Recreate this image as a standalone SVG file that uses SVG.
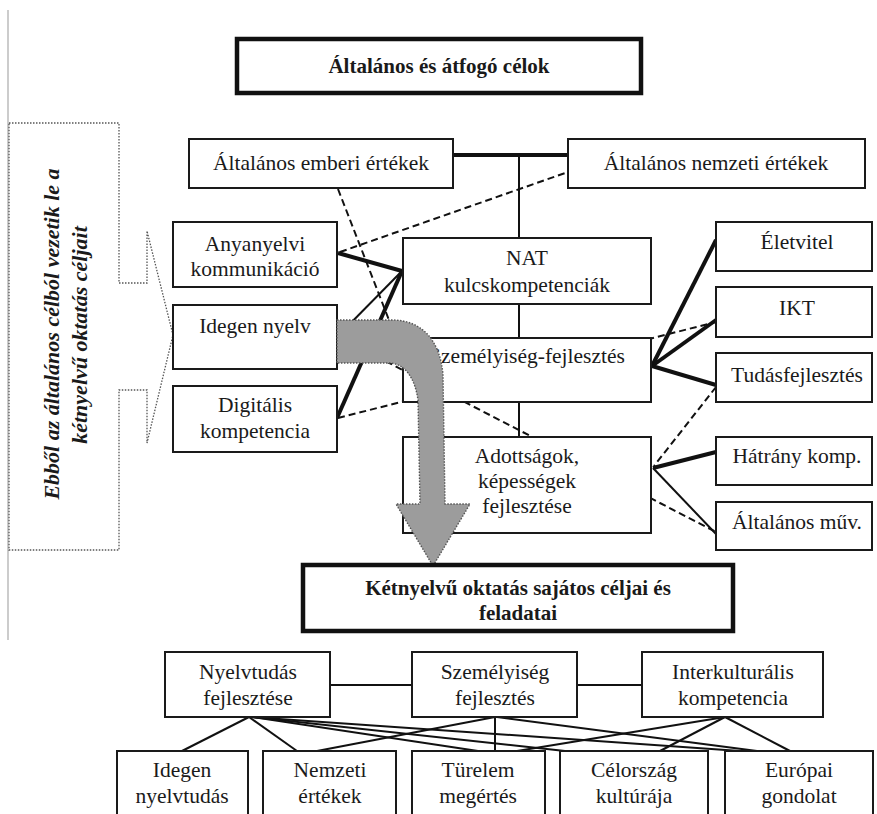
<svg xmlns="http://www.w3.org/2000/svg" width="877" height="814" viewBox="0 0 877 814" font-family="'Liberation Serif', 'Times New Roman', 'DejaVu Serif', serif">
<style>
.b{fill:#fff;stroke:#1a1a1a;stroke-width:2}
.bt{fill:#fff;stroke:#111;stroke-width:4.5}
text{font-size:21.5px;fill:#1a1a1a;text-anchor:middle}
.bold{font-weight:bold;font-size:21px}
.rot{font-weight:bold;font-style:italic;font-size:22px}
.thick{stroke:#111;stroke-width:4;fill:none}
.thin{stroke:#111;stroke-width:2;fill:none}
.dash{stroke:#111;stroke-width:2;stroke-dasharray:7 4;fill:none}
</style>
<rect width="877" height="814" fill="#fff"/>
<line x1="8" y1="10" x2="8" y2="640" stroke="#aaa" stroke-width="1.2"/>
<g id="callout">
<path d="M9,123 H119 V283 H147 V231 L173,335 L147,443 V390 H119 V550 H9 Z" fill="none" stroke="#555" stroke-width="1.3" stroke-dasharray="1.5 1.5"/>
<text class="rot" transform="translate(59,334) rotate(-90)">Ebből az általános célból vezetik le a</text>
<text class="rot" transform="translate(87,335) rotate(-90)">kétnyelvű oktatás céljait</text>
</g>
<g id="connectors">
<line class="thick" x1="453" y1="155" x2="568" y2="155"/>
<line class="thin" x1="519" y1="155" x2="519" y2="238"/>
<line class="thin" x1="519" y1="304" x2="519" y2="338"/>
<line class="thin" x1="519" y1="402" x2="519" y2="437"/>
<line class="thick" x1="338" y1="253" x2="402" y2="271"/>
<line class="thin" x1="402" y1="271" x2="337" y2="337"/>
<line class="thick" x1="402" y1="271" x2="337" y2="418"/>
<line class="dash" x1="338" y1="189" x2="403" y2="356"/>
<line class="dash" x1="340" y1="252" x2="568" y2="172"/>
<line class="dash" x1="338" y1="418" x2="716" y2="322"/>
<line class="dash" x1="337" y1="336" x2="716" y2="532"/>
<line class="dash" x1="716" y1="387" x2="654" y2="466"/>
<line class="thick" x1="652" y1="366" x2="716" y2="240"/>
<line class="thick" x1="652" y1="366" x2="716" y2="320"/>
<line class="thick" x1="652" y1="366" x2="716" y2="385"/>
<line class="thick" x1="653" y1="468" x2="716" y2="452"/>
<line class="thin" x1="653" y1="468" x2="716" y2="534" stroke-width="3"/>
<line class="thin" x1="330" y1="685" x2="412" y2="685"/>
<line class="thin" x1="577" y1="685" x2="642" y2="685"/>
<line class="thin" x1="249" y1="717" x2="182" y2="751"/>
<line class="thin" x1="249" y1="717" x2="297" y2="751"/>
<line class="thin" x1="252" y1="717" x2="478" y2="751"/>
<line class="thin" x1="252" y1="717" x2="565" y2="751"/>
<line class="thin" x1="252" y1="717" x2="740" y2="751"/>
<line class="thin" x1="495" y1="717" x2="317" y2="751"/>
<line class="thin" x1="495" y1="717" x2="495" y2="751"/>
<line class="thin" x1="497" y1="717" x2="757" y2="751"/>
<line class="thin" x1="725" y1="717" x2="517" y2="751"/>
<line class="thin" x1="725" y1="717" x2="660" y2="751"/>
<line class="thin" x1="725" y1="717" x2="790" y2="751"/>
</g>
<g id="n-top"><rect class="bt" x="237" y="39" width="404" height="54"/><text class="bold" x="439" y="73">Általános és átfogó célok</text></g>
<g id="n-emberi"><rect class="b" x="189" y="139" width="264" height="49"/><text x="321" y="170">Általános emberi értékek</text></g>
<g id="n-nemzeti"><rect class="b" x="568" y="139" width="297" height="49"/><text x="716" y="170">Általános nemzeti értékek</text></g>
<g id="n-anya"><rect class="b" x="173" y="222" width="164" height="65"/><text x="255" y="251">Anyanyelvi</text><text x="255" y="276">kommunikáció</text></g>
<g id="n-idegen"><rect class="b" x="173" y="305" width="164" height="64"/><text x="255" y="333">Idegen nyelv</text></g>
<g id="n-digit"><rect class="b" x="173" y="386" width="164" height="66"/><text x="255" y="412">Digitális</text><text x="255" y="438">kompetencia</text></g>
<g id="n-nat"><rect class="b" x="403" y="238" width="248" height="66"/><text x="527" y="265">NAT</text><text x="527" y="292">kulcskompetenciák</text></g>
<g id="n-szem"><rect class="b" x="403" y="338" width="248" height="64"/><text x="527" y="363">Személyiség-fejlesztés</text></g>
<g id="n-adott"><rect class="b" x="403" y="437" width="248" height="96"/><text x="527" y="463">Adottságok,</text><text x="527" y="488">képességek</text><text x="527" y="513">fejlesztése</text></g>
<g id="n-elet"><rect class="b" x="716" y="222" width="156" height="49"/><text x="797" y="249">Életvitel</text></g>
<g id="n-ikt"><rect class="b" x="716" y="287" width="156" height="50"/><text x="797" y="315">IKT</text></g>
<g id="n-tudas"><rect class="b" x="716" y="353" width="156" height="49"/><text x="797" y="382">Tudásfejlesztés</text></g>
<g id="n-hatr"><rect class="b" x="716" y="437" width="156" height="48"/><text x="797" y="463">Hátrány komp.</text></g>
<g id="n-altmuv"><rect class="b" x="716" y="502" width="156" height="48"/><text x="797" y="529">Általános műv.</text></g>
<g id="arrow"><path d="M337,320 H392 C420,320 440,338 443,375 L445,504 H470 L433,566 L396,504 H420 L418,400 C415,378 405,364 390,363 H337 Z" fill="#9c9c9c" stroke="#555" stroke-width="1.4" stroke-dasharray="1.5 1.5"/></g>
<g id="n-ketny"><rect class="bt" x="303" y="565" width="430" height="66"/><text class="bold" x="518" y="595">Kétnyelvű oktatás sajátos céljai és</text><text class="bold" x="518" y="620">feladatai</text></g>
<g id="n-nyelvt"><rect class="b" x="165" y="652" width="165" height="65"/><text x="248" y="679">Nyelvtudás</text><text x="248" y="705">fejlesztése</text></g>
<g id="n-szemf"><rect class="b" x="412" y="652" width="165" height="65"/><text x="495" y="679">Személyiség</text><text x="495" y="705">fejlesztés</text></g>
<g id="n-inter"><rect class="b" x="642" y="652" width="181" height="65"/><text x="733" y="679">Interkulturális</text><text x="733" y="705">kompetencia</text></g>
<g id="n-idny"><rect class="b" x="117" y="751" width="131" height="70"/><text x="182" y="777">Idegen</text><text x="182" y="803">nyelvtudás</text></g>
<g id="n-nemz"><rect class="b" x="263" y="751" width="133" height="70"/><text x="330" y="777">Nemzeti</text><text x="330" y="803">értékek</text></g>
<g id="n-tur"><rect class="b" x="412" y="751" width="133" height="70"/><text x="478" y="777">Türelem</text><text x="478" y="803">megértés</text></g>
<g id="n-celo"><rect class="b" x="560" y="751" width="148" height="70"/><text x="634" y="777">Célország</text><text x="634" y="803">kultúrája</text></g>
<g id="n-eur"><rect class="b" x="725" y="751" width="148" height="70"/><text x="799" y="777">Európai</text><text x="799" y="803">gondolat</text></g>
</svg>
